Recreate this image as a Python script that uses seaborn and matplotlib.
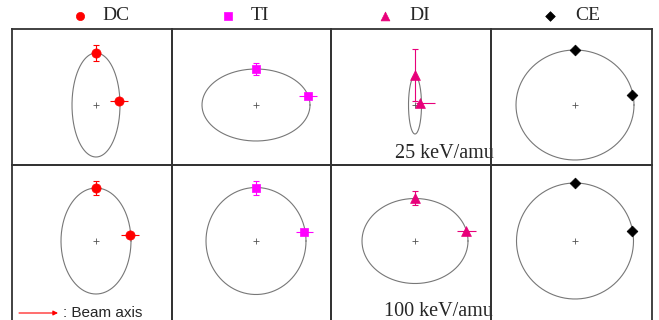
import numpy as np
import pandas as pd
import matplotlib
matplotlib.use("Agg")
import matplotlib.pyplot as plt
import seaborn as sns

# Processes and styling
processes = ["DC", "TI", "DI", "CE"]
energies = ["25 keV/amu", "100 keV/amu"]
colors = ["#ff0000", "#ff00ff", "#e8007a", "#000000"]
markers = ["o", "s", "^", "D"]
marker_sizes = [44, 36, 50, 30]

# Fitted distributions: semi-axes along the beam (horizontal) and perpendicular (vertical)
semi_h_25 = [24, 54, 6.5, 59]
semi_v_25 = [52, 36, 29, 55]
semi_h_100 = [35, 50, 53, 58.5]
semi_v_100 = [53, 53.5, 42.5, 58]

# Measured point perpendicular to the beam (top)
top_y_25 = [52, 36, 30, 55]
top_err_25 = [8, 6, 26, 0]
top_y_100 = [53, 53.5, 43, 58]
top_err_100 = [7, 7, 7, 0]

# Measured point near the beam direction (right)
side_x_25 = [23, 52, 5, 57]
side_y_25 = [4, 9, 2, 10]
side_xerr_lo_25 = [9, 9, 4, 4]
side_xerr_hi_25 = [9, 9, 15, 4]
side_x_100 = [34, 48, 51, 57]
side_y_100 = [6, 8.7, 10, 10]
side_xerr_lo_100 = [9, 8.5, 9.5, 5]
side_xerr_hi_100 = [9, 8.5, 9.5, 5]

rows = [
    dict(h=semi_h_25, v=semi_v_25, ty=top_y_25, te=top_err_25,
         sx=side_x_25, sy=side_y_25, lo=side_xerr_lo_25, hi=side_xerr_hi_25),
    dict(h=semi_h_100, v=semi_v_100, ty=top_y_100, te=top_err_100,
         sx=side_x_100, sy=side_y_100, lo=side_xerr_lo_100, hi=side_xerr_hi_100),
]

sns.set_theme(style="white")
plt.rcParams["font.family"] = ["Liberation Serif", "DejaVu Serif"]

W, H = 659, 320
fig = plt.figure(figsize=(W / 100, H / 100), dpi=100)
fig.patch.set_facecolor("white")

# Overlay in pixel coordinates for legend and annotations
over = fig.add_axes([0, 0, 1, 1], zorder=0)
over.set_xlim(0, W)
over.set_ylim(H, 0)
over.set_facecolor("none")
over.axis("off")

col_edges = [12, 172, 331, 491, 652]
row_edges = [(29, 165), (165, 345)]
cx, cy = 84, 76
theta = np.linspace(0, 2 * np.pi, 361)

for r, (y0, y1) in enumerate(row_edges):
    d = rows[r]
    for c in range(4):
        x0, x1 = col_edges[c], col_edges[c + 1]
        ax = fig.add_axes([x0 / W, 1 - y1 / H, (x1 - x0) / W, (y1 - y0) / H], zorder=1)
        ax.set_facecolor("none")
        ax.set_xlim(-cx, (x1 - x0) - cx)
        ax.set_ylim(-((y1 - y0) - cy), cy)
        ax.set_xticks([])
        ax.set_yticks([])
        for s in ax.spines.values():
            s.set_color("#333333")
            s.set_linewidth(1.3)

        ell = pd.DataFrame({"x": d["h"][c] * np.cos(theta),
                            "y": d["v"][c] * np.sin(theta)})
        sns.lineplot(data=ell, x="x", y="y", sort=False, estimator=None,
                     color="#777777", lw=0.8, ax=ax)
        ax.plot([0], [0], marker="+", color="#555555", ms=4, mew=0.6)

        col = colors[c]
        if d["te"][c] > 0:
            ax.errorbar([0], [d["ty"][c]], yerr=[d["te"][c]], fmt="none",
                        ecolor=col, elinewidth=0.8, capsize=2, capthick=0.8)
        ax.errorbar([d["sx"][c]], [d["sy"][c]],
                    xerr=[[d["lo"][c]], [d["hi"][c]]], fmt="none",
                    ecolor=col, elinewidth=0.8, capsize=0)
        pts = pd.DataFrame({"x": [0, d["sx"][c]], "y": [d["ty"][c], d["sy"][c]]})
        sns.scatterplot(data=pts, x="x", y="y", marker=markers[c],
                        s=marker_sizes[c], color=col, edgecolor=col,
                        linewidth=0.5, ax=ax, zorder=5)
        ax.set_xlabel("")
        ax.set_ylabel("")

# Legend across the top
leg_mx = [80, 228, 385, 550]
leg_tx = [102, 251, 409, 575]
for i, p in enumerate(processes):
    sns.scatterplot(x=[leg_mx[i]], y=[16], marker=markers[i],
                    s=marker_sizes[i] * 0.8, color=colors[i],
                    edgecolor=colors[i], linewidth=0.5, ax=over)
    over.text(leg_tx[i], 16, p, fontsize=14, va="center", ha="left")

# Energy labels
over.text(494, 154, energies[0], fontsize=14.5, va="center", ha="right")
over.text(493, 311, energies[1], fontsize=14.5, va="center", ha="right")

# Beam direction key
over.annotate("", xy=(58, 313), xytext=(19, 313),
              arrowprops=dict(arrowstyle="-|>", color="red", lw=0.8,
                              mutation_scale=7, shrinkA=0, shrinkB=0))
over.text(63, 313, ": Beam axis", fontsize=11, va="center", ha="left",
          family=["Liberation Sans", "DejaVu Sans"])

fig.savefig("out.png", dpi=100)
